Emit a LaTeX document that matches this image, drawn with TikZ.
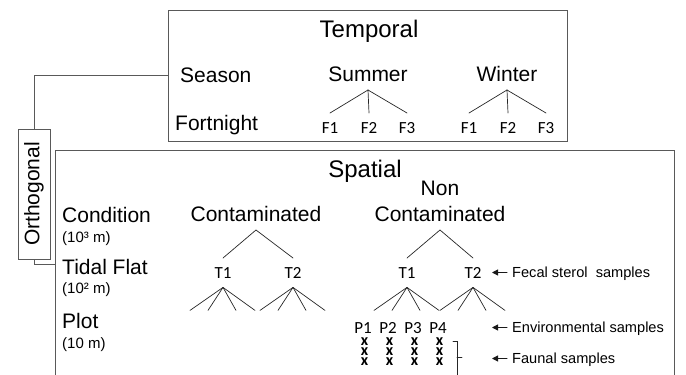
\documentclass[tikz,border=0pt]{standalone}
\usepackage{fontspec}
\setmainfont{Liberation Sans}
\newfontfamily\calibri{Carlito}
\usetikzlibrary{calc,arrows.meta}

\begin{document}
\begin{tikzpicture}[x=1pt,y=-1pt,line cap=round,
        box/.style={draw=black!65,line width=0.9pt,inner sep=0pt},
        title/.style={font=\fontsize{24}{24}\selectfont,anchor=base,inner sep=0pt},
        level/.style={font=\fontsize{21}{21}\selectfont,anchor=base west,inner sep=0pt},
        scalelabel/.style={font=\fontsize{15}{15}\selectfont,anchor=base west,inner sep=0pt},
        group/.style={font=\fontsize{21}{26}\selectfont,anchor=south,align=center,text depth=0pt,inner xsep=0pt,inner ysep=8pt},
        unit/.style={font=\calibri\fontsize{17}{17}\selectfont,anchor=north,text height=11pt,text depth=0pt,inner xsep=0pt,inner ysep=9pt},
        faunal/.style={font=\calibri\bfseries\fontsize{16}{10}\selectfont,anchor=south,align=center,text depth=0pt,inner sep=0pt},
        note/.style={font=\fontsize{14.6}{14.6}\selectfont,anchor=base west,inner sep=0pt},
        notearrow/.style={draw=black!90,line width=1pt,-{Triangle[length=6pt,width=6pt]}},
        branch/.style={draw=black!85,line width=0.7pt}]
    \useasboundingbox (0,0) rectangle (686,375);
    \clip (0,0) rectangle (686,375);
    \node[box,minimum width=399pt,minimum height=131pt] (temporal) at (367.5,75.5) {};
    \node[box,minimum width=619pt,minimum height=228pt] (spatial) at (364.5,264) {};
    \node[box,rotate=90,minimum width=130pt,minimum height=32pt,font=\fontsize{21}{21}\selectfont] (orth) at (34,194) {Orthogonal};
    \draw[box] (temporal.west) -| (orth.east);
    \draw[box] (orth.west) |- (spatial.west);
    \node[title] (ttitle) at (369,37) {Temporal};
    \node[title] (stitle) at (365,177) {Spatial};
    \node[level] (season) at (180,82) {Season};
    \node[level] (fortnight) at (175,130) {Fortnight};
    \node[level] (condition) at (62,222) {Condition};
    \node[scalelabel] (condscale) at (62,242) {(10³ m)};
    \node[level] (tidal) at (62,274) {Tidal Flat};
    \node[scalelabel] (tidalscale) at (62,293) {(10² m)};
    \node[level] (plot) at (62,328) {Plot};
    \node[scalelabel] (plotscale) at (62,348) {(10 m)};
    \node[group] (summer) at (368,90) {Summer};
    \node[group] (winter) at (507,90) {Winter};
    \foreach \s/\x in {summer/368,winter/507}{
        \foreach \f/\dx in {1/-38,2/1,3/39}{
            \node[unit] (\s\f) at (\x+\dx,113) {F\f};
            \draw[branch] (\s.south) -- (\s\f.north);
        }
    }
    \node[group] (contam) at (256,230) {Contaminated};
    \node[group] (noncontam) at (440,230) {Non\\Contaminated};
    \node[unit] (ct1) at (223,258) {T1};
    \node[unit] (ct2) at (293,258) {T2};
    \node[unit] (nt1) at (407,258) {T1};
    \node[unit] (nt2) at (473,258) {T2};
    \draw[branch] (contam.south) -- (ct1.north);
    \draw[branch] (contam.south) -- (ct2.north);
    \draw[branch] (noncontam.south) -- (nt1.north);
    \draw[branch] (noncontam.south) -- (nt2.north);
    \foreach \t in {ct1,ct2,nt1,nt2}
        \foreach \dx in {-33,-15,13,32}
            \draw[branch] (\t.south) -- ++(\dx,23);
    \foreach \p/\x in {1/363,2/388,3/413,4/438}{
        \node[unit] (p\p) at (\x,313) {P\p};
        \node[faunal] (x\p) at (\x+1.5,366) {x\\x\\x};
    }
    \draw[branch] (453,341) -- (457,341) -- (457,380);
    \draw[branch] (457,357) -- (462,357);
    \node[note] (fecal) at (512,277) {Fecal sterol\ \ samples};
    \node[note] (env) at (512,332) {Environmental samples};
    \node[note] (fauna) at (512,363) {Faunal samples};
    \foreach \n in {fecal,env,fauna}
        \draw[notearrow] ([xshift=-5pt,yshift=4.5pt]\n.base west) -- ++(-15,0);
\end{tikzpicture}
\end{document}
